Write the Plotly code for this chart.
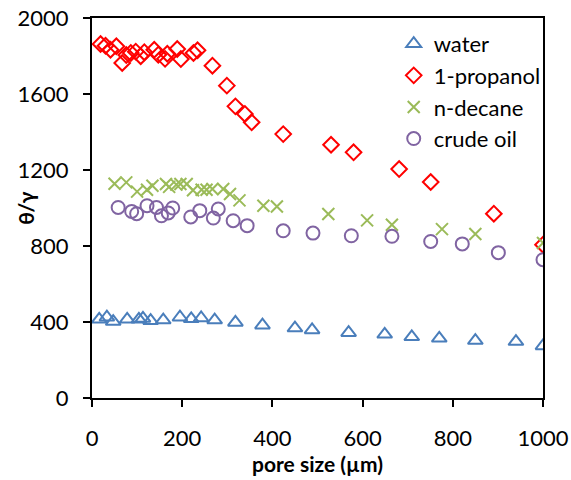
import plotly.graph_objects as go

water_x = [16, 33, 47, 78, 104, 113, 130, 158, 195, 220, 242, 272, 318, 378, 450, 488, 569, 649, 709, 770, 850, 940, 1000]
water_y = [414, 425, 402, 414, 414, 419, 407, 410, 425, 417, 421, 410, 398, 383, 368, 358, 344, 335, 322, 314, 302, 297, 274]

prop_x = [19, 30, 41, 54, 67, 76, 86, 97, 108, 116, 138, 147, 162, 167, 189, 197, 225, 234, 267, 299, 318, 339, 354, 424, 530, 580, 681, 751, 891, 1000]
prop_y = [1863, 1854, 1833, 1851, 1763, 1805, 1816, 1823, 1799, 1820, 1833, 1807, 1785, 1812, 1837, 1784, 1816, 1830, 1749, 1644, 1535, 1495, 1451, 1389, 1333, 1293, 1205, 1137, 970, 807]

dec_x = [50, 76, 100, 122, 134, 164, 171, 187, 196, 210, 224, 243, 254, 267, 291, 306, 327, 380, 410, 524, 610, 665, 776, 850, 1000]
dec_y = [1128, 1135, 1086, 1096, 1117, 1126, 1111, 1123, 1126, 1126, 1093, 1096, 1096, 1100, 1100, 1074, 1040, 1012, 1008, 968, 935, 912, 889, 863, 816]

oil_x = [58, 88, 99, 122, 143, 154, 169, 179, 219, 239, 269, 280, 313, 344, 424, 490, 575, 665, 751, 821, 901, 1000]
oil_y = [1003, 982, 970, 1012, 1003, 959, 974, 1000, 953, 986, 947, 995, 933, 907, 880, 868, 854, 851, 824, 811, 765, 728]

FONT = "Lato, 'Open Sans', sans-serif"

fig = go.Figure()
fig.add_trace(go.Scatter(x=water_x, y=water_y, mode="markers", name="water", legendgroup="a",
                         marker=dict(symbol="triangle-up-open", size=13, color="#4A7EBB", line=dict(width=2, color="#4A7EBB"))))
fig.add_trace(go.Scatter(x=prop_x, y=prop_y, mode="markers", name="1-propanol", legendgroup="b",
                         marker=dict(symbol="diamond-open", size=12, color="#FF0000", line=dict(width=2, color="#FF0000"))))
fig.add_trace(go.Scatter(x=dec_x, y=dec_y, mode="markers", name="n-decane", legendgroup="c",
                         marker=dict(symbol="x-thin-open", size=12, color="#9BBB59", line=dict(width=2, color="#9BBB59"))))
fig.add_trace(go.Scatter(x=oil_x, y=oil_y, mode="markers", name="crude oil", legendgroup="d",
                         marker=dict(symbol="circle-open", size=13, color="#8064A2", line=dict(width=2, color="#8064A2"))))

fig.update_layout(
    width=571, height=480,
    margin=dict(l=92, r=28, t=18, b=82),
    paper_bgcolor="white", plot_bgcolor="white",
    font=dict(family=FONT, size=22, color="black"),
    showlegend=True,
    legend=dict(x=0.669, y=0.987, xanchor="left", yanchor="top", bgcolor="rgba(0,0,0,0)",
                font=dict(size=22), traceorder="grouped", tracegroupgap=0, itemwidth=30),
    annotations=[dict(text="<b>θ/γ</b>", xref="paper", yref="paper", x=-0.149, y=0.5,
                      xanchor="center", yanchor="middle", textangle=-90, showarrow=False,
                      font=dict(size=21))],
)
fig.update_xaxes(range=[0, 1000], tickvals=[0, 200, 400, 600, 800, 1000], showgrid=False, zeroline=False,
                 showline=True, linecolor="black", linewidth=2, mirror=True, automargin=False,
                 ticks="outside", ticklen=7, tickwidth=2, tickcolor="black", ticklabelstandoff=13,
                 ticklabeloverflow="allow",
                 title=dict(text="<b>pore size (µm)</b>", font=dict(size=21), standoff=6))
fig.update_yaxes(range=[0, 2000], tickvals=[0, 400, 800, 1200, 1600, 2000], showgrid=False, zeroline=False,
                 showline=True, linecolor="black", linewidth=2, mirror=True, automargin=False,
                 ticks="outside", ticklen=7, tickwidth=2, tickcolor="black", ticklabelstandoff=10,
                 ticklabeloverflow="allow")

fig.write_html("out.html", config={"displayModeBar": False},
               post_script="document.body.style.margin='0';")
